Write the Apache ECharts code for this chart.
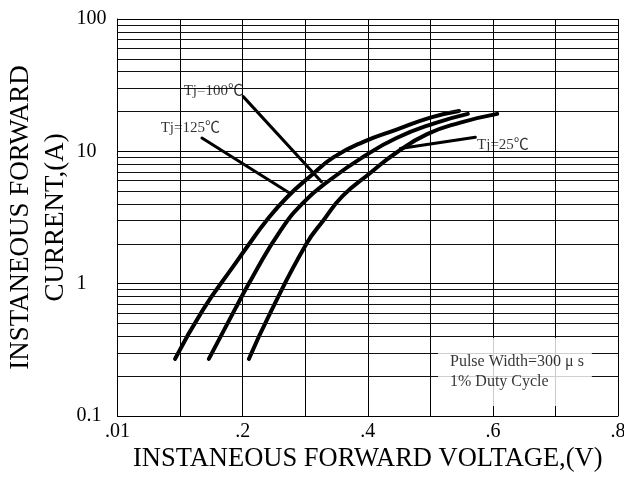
<!DOCTYPE html>
<html><head><meta charset="utf-8">
<script src="https://cdn.jsdelivr.net/npm/echarts@6/dist/echarts.min.js"></script>
<style>html,body{margin:0;padding:0;background:#fff}#c{width:624px;height:480px}</style>
</head><body><div id="c"></div>
<script>
// X tick labels (every 0.2 V), y decade labels
const xTickLabels = ['.01', '.2', '.4', '.6', '.8'];
const yTickLabels = ['0.1', '1', '10', '100'];

// Tj=125°C curve
const v125 = [0.092, 0.137, 0.185, 0.209, 0.237, 0.271, 0.310, 0.345, 0.393, 0.446, 0.500, 0.546];
const i125 = [0.27, 0.64, 1.35, 1.95, 2.95, 4.5, 6.6, 9.0, 11.8, 14.6, 18.0, 20.2];
// Tj=100°C curve
const v100 = [0.146, 0.190, 0.217, 0.260, 0.297, 0.340, 0.393, 0.446, 0.505, 0.560];
const i100 = [0.27, 0.67, 1.15, 2.5, 4.1, 6.1, 9.1, 12.6, 16.2, 19.2];
// Tj=25°C curve
const v25 = [0.210, 0.244, 0.302, 0.329, 0.360, 0.403, 0.446, 0.495, 0.548, 0.607];
const i25 = [0.27, 0.60, 2.0, 3.0, 4.6, 6.8, 9.8, 13.5, 16.5, 19.2];

// Leader lines [start, end] in (V, A)
const lead100 = [[0.201, 25.9], [0.326, 5.9]];
const lead125 = [[0.135, 12.6], [0.273, 4.9]];
const lead25 = [[0.452, 10.5], [0.572, 12.8]];

// Annotation anchors
const labels = [
  {name: 'Tj=100℃', v: 0.2006, i: 28.6, pos: 'left'},
  {name: 'Tj=125℃', v: 0.1638, i: 15.0, pos: 'left'},
  {name: 'Tj=25℃', v: 0.5747, i: 11.2, pos: 'right'}
];
const noteText = 'Pulse Width=300 μ s\n1% Duty Cycle';
const noteAt = [0.5123, 0.215];

// minor log grid values 2..9 per decade
const minorGrid = [];
[0.1, 1, 10].forEach(d => { for (let k = 2; k <= 9; k++) minorGrid.push(+(d * k).toPrecision(3)); });

const FONT = "'Liberation Serif', 'Noto Sans CJK SC', serif";
const zip = (a, b) => a.map((x, k) => [x, b[k]]);

const chart = echarts.init(document.getElementById('c'), null, {renderer: 'canvas'});
const curveStyle = {color: '#000', width: 4, cap: 'round', join: 'round'};
const leadStyle = {color: '#000', width: 3, cap: 'round'};
const curve = d => ({type: 'line', z: 4, data: d, smooth: 0.5, symbol: 'none', lineStyle: curveStyle});

chart.setOption({
  backgroundColor: '#fff',
  animation: false,
  grid: {left: 117.5, right: 6, top: 19, bottom: 64, containLabel: false, outerBoundsMode: 'none'},
  xAxis: {
    type: 'value', min: 0, max: 0.8, interval: 0.1,
    name: 'INSTANEOUS FORWARD VOLTAGE,(V)', nameLocation: 'middle', nameGap: 30, nameMoveOverlap: false,
    nameTextStyle: {fontFamily: FONT, fontSize: 26.5, color: '#000'},
    axisLine: {lineStyle: {color: '#000', width: 1}},
    axisTick: {show: false},
    axisLabel: {
      fontFamily: FONT, fontSize: 20, color: '#000', margin: 6,
      formatter: v => { const r = Math.round(v * 10); return r % 2 === 0 ? xTickLabels[r / 2] : ''; }
    },
    splitLine: {show: true, lineStyle: {color: '#000', width: 1}}
  },
  yAxis: {
    type: 'log', logBase: 10, min: 0.1, max: 100,
    name: 'INSTANEOUS FORWARD\nCURRENT,(A)', nameLocation: 'middle', nameGap: 44, nameRotate: 90, nameMoveOverlap: false,
    nameTextStyle: {fontFamily: FONT, fontSize: 27, color: '#000', lineHeight: 35},
    axisLine: {show: true, lineStyle: {color: '#000', width: 1}},
    axisTick: {show: false},
    axisLabel: {
      fontFamily: FONT, fontSize: 20, color: '#000', margin: 41, align: 'left',
      formatter: v => yTickLabels[Math.round(Math.log10(v)) + 1]
    },
    splitLine: {show: true, lineStyle: {color: '#000', width: 1}}
  },
  series: [
    {
      type: 'line', z: 1, silent: true, data: [[0, 1]], symbol: 'none',
      lineStyle: {opacity: 0},
      markLine: {
        silent: true, symbol: 'none', label: {show: false},
        lineStyle: {color: '#111', width: 1, type: 'solid'},
        data: minorGrid.map(v => ({yAxis: v}))
      }
    },
    curve(zip(v125, i125)),
    curve(zip(v100, i100)),
    curve(zip(v25, i25)),
    {type: 'line', z: 4, data: lead100, symbol: 'none', lineStyle: leadStyle},
    {type: 'line', z: 4, data: lead125, symbol: 'none', lineStyle: leadStyle},
    {type: 'line', z: 4, data: lead25, symbol: 'none', lineStyle: leadStyle},
    {
      type: 'scatter', z: 5, symbolSize: 0, silent: true,
      data: labels.map(l => ({value: [l.v, l.i], name: l.name, label: {position: l.pos}})),
      label: {show: true, formatter: p => p.name, distance: 0, fontFamily: FONT, fontSize: 15, color: '#000'}
    },
    {
      type: 'scatter', z: 6, symbolSize: 0, silent: true,
      data: [{value: noteAt}],
      label: {
        show: true, position: 'right', distance: 0, formatter: noteText,
        fontFamily: FONT, fontSize: 16, lineHeight: 20, color: '#000', align: 'left',
        backgroundColor: '#fff', padding: [14, 8, 14, 12]
      }
    }
  ]
});
</script></body></html>
